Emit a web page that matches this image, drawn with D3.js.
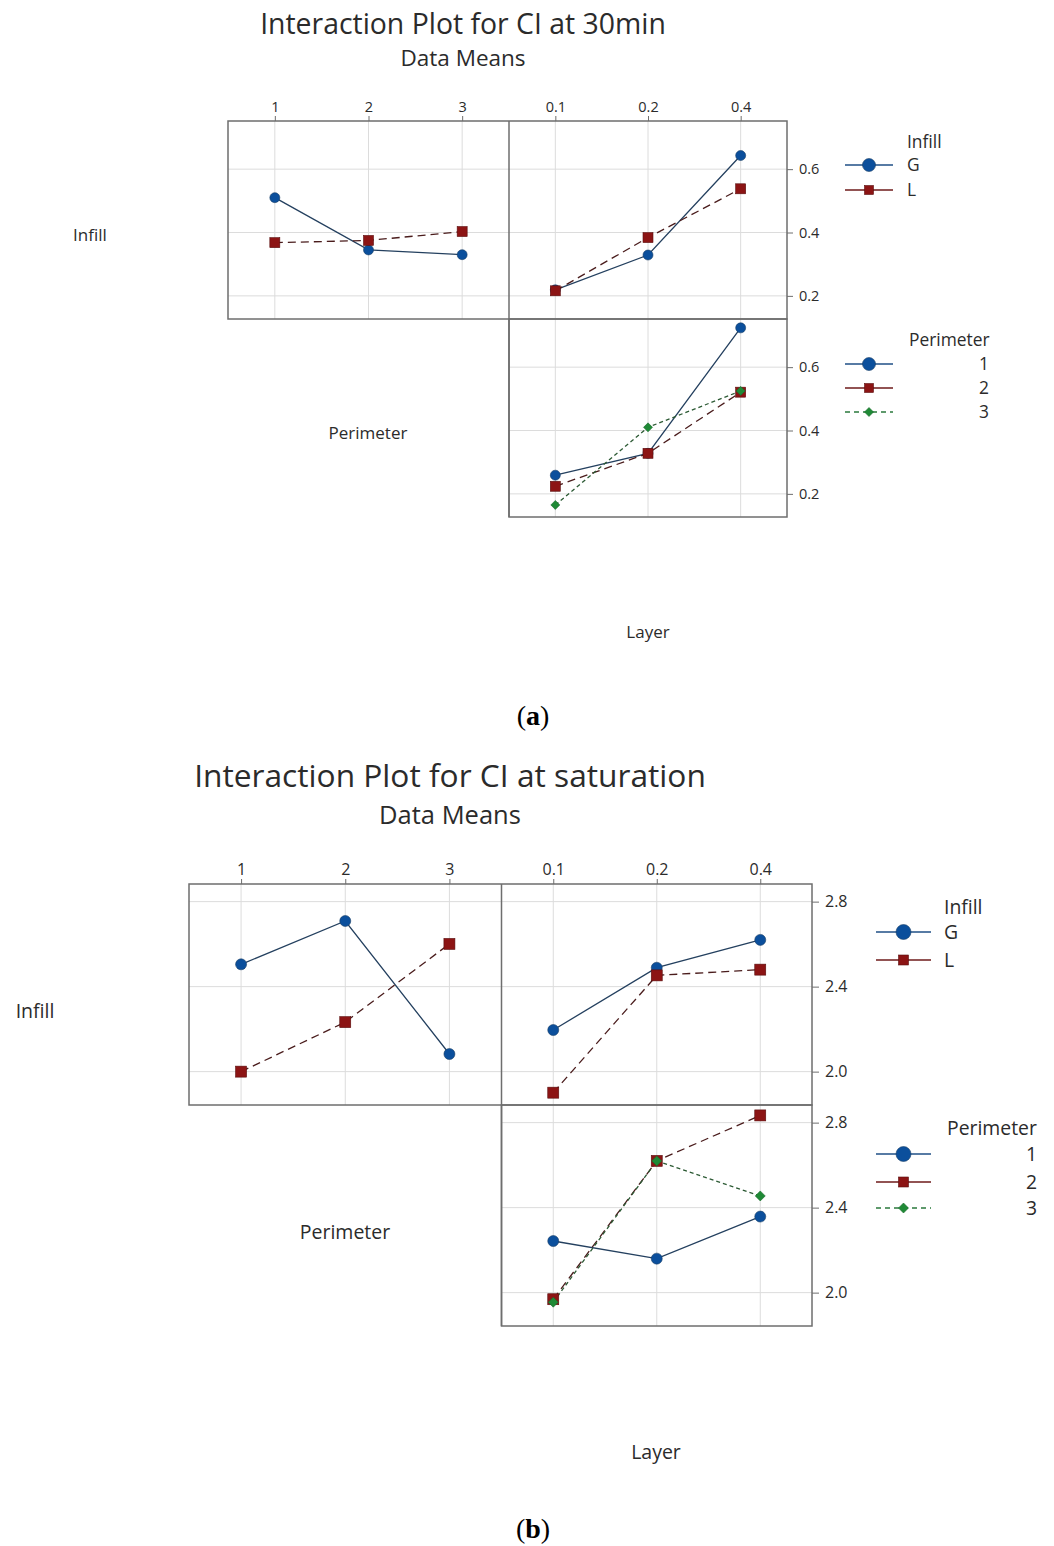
<!DOCTYPE html>
<html>
<head>
<meta charset="utf-8">
<script src="https://cdn.jsdelivr.net/npm/d3@7"></script>
<style>
  html, body { margin: 0; padding: 0; background: #ffffff; }
  svg { display: block; }
  text { font-family: "Open Sans", "Noto Sans", sans-serif; fill: #2b2b2b; }
</style>
</head>
<body>
<svg id="chart" width="1054" height="1546"></svg>
<script>
// Factor levels
const perimeterLevels = ["1", "2", "3"];
const layerLevels = ["0.1", "0.2", "0.4"];
const infillLevels = ["G", "L"];

// (a) CI at 30 min: means
const a_infillByPerimeter = { G: [0.51, 0.345, 0.33], L: [0.368, 0.375, 0.403] };
const a_infillByLayer = { G: [0.219, 0.329, 0.643], L: [0.216, 0.384, 0.538] };
const a_perimeterByLayer = { "1": [0.259, 0.328, 0.724], "2": [0.224, 0.328, 0.521], "3": [0.165, 0.41, 0.525] };
const a_yTicks = [0.2, 0.4, 0.6];
const a_yDomain = [0.127, 0.752];

// (b) CI at saturation: means
const b_infillByPerimeter = { G: [2.505, 2.709, 2.083], L: [2.0, 2.233, 2.601] };
const b_infillByLayer = { G: [2.196, 2.489, 2.62], L: [1.901, 2.453, 2.48] };
const b_perimeterByLayer = { "1": [2.243, 2.16, 2.358], "2": [1.969, 2.62, 2.834], "3": [1.955, 2.62, 2.455] };
const b_yTicks = [2.0, 2.4, 2.8];
const b_yDomain = [1.843, 2.883];

// Series styling (level order: solid blue circle, dashed red square, dashed green diamond)
const styles = [
  { fill: "#0b4f9c", stroke: "#1b3f66", line: "#24405f", dash: null, shape: "circle" },
  { fill: "#8c1414", stroke: "#5a0e0e", line: "#4a1c1c", dash: "8,5", shape: "square" },
  { fill: "#1f8a36", stroke: "#1a6a2c", line: "#2c5a34", dash: "4,3", shape: "diamond" }
];

const svg = d3.select("#chart");

function marker(g, shape, cx, cy, s, st) {
  if (shape === "circle") {
    g.append("circle").attr("cx", cx).attr("cy", cy).attr("r", s / 2)
      .attr("fill", st.fill).attr("stroke", st.stroke).attr("stroke-width", 0.6);
  } else if (shape === "square") {
    g.append("rect").attr("x", cx - s / 2).attr("y", cy - s / 2).attr("width", s).attr("height", s)
      .attr("fill", st.fill).attr("stroke", st.stroke).attr("stroke-width", 0.6);
  } else {
    const h = s / 2;
    g.append("path").attr("d", `M${cx},${cy - h}L${cx + h},${cy}L${cx},${cy + h}L${cx - h},${cy}Z`)
      .attr("fill", st.fill).attr("stroke", st.stroke).attr("stroke-width", 0.6);
  }
}

function drawCell(g, x, y, levels, seriesMap, seriesKeys, yTicks, box, ms) {
  const cell = g.append("g");
  // grid
  cell.selectAll(".vg").data(levels).join("line")
    .attr("x1", d => x(d)).attr("x2", d => x(d)).attr("y1", box.y0).attr("y2", box.y1)
    .attr("stroke", "#dcdcdc").attr("stroke-width", 1);
  cell.selectAll(".hg").data(yTicks).join("line")
    .attr("x1", box.x0).attr("x2", box.x1).attr("y1", d => y(d)).attr("y2", d => y(d))
    .attr("stroke", "#dcdcdc").attr("stroke-width", 1);
  const line = d3.line().x((d, i) => x(levels[i])).y(d => y(d));
  seriesKeys.forEach((k, si) => {
    const st = styles[si];
    cell.append("path").attr("d", line(seriesMap[k])).attr("fill", "none")
      .attr("stroke", st.line).attr("stroke-width", 1.3)
      .attr("stroke-dasharray", st.dash);
  });
  seriesKeys.forEach((k, si) => {
    const st = styles[si];
    const size = st.shape === "circle" ? ms.c : st.shape === "square" ? ms.s : ms.d;
    seriesMap[k].forEach((v, i) => marker(cell, st.shape, x(levels[i]), y(v), size, st));
  });
}

function drawLegend(g, L, title, keys, align) {
  const lg = g.append("g");
  lg.append("text").attr("x", L.tx).attr("y", L.ty).attr("font-size", L.fs).text(title);
  keys.forEach((k, i) => {
    const st = styles[i];
    const yy = L.ry[i];
    lg.append("line").attr("x1", L.lx0).attr("x2", L.lx1).attr("y1", yy).attr("y2", yy)
      .attr("stroke", i === 0 ? "#1f4f86" : i === 1 ? "#6e1a1a" : "#2a7a3c")
      .attr("stroke-width", 1.6)
      .attr("stroke-dasharray", i === 2 ? "5,4" : null);
    const size = st.shape === "circle" ? L.mc : st.shape === "square" ? L.msq : L.md;
    marker(lg, st.shape, (L.lx0 + L.lx1) / 2, yy, size, st);
    lg.append("text").attr("x", align === "end" ? L.vx : L.tx).attr("y", yy)
      .attr("dy", "0.36em").attr("text-anchor", align).attr("font-size", L.fs).text(k);
  });
}

function drawPlot(L, D) {
  const g = svg.append("g");
  const xP = d3.scalePoint().domain(perimeterLevels).range([L.x0, L.x1]).padding(0.5);
  const xL = d3.scalePoint().domain(layerLevels).range([L.x1, L.x2]).padding(0.5);
  const yTop = d3.scaleLinear().domain(D.yDomain).range([L.y1, L.y0]);
  const yBot = d3.scaleLinear().domain(D.yDomain).range([L.y2, L.y1]);

  // titles
  g.append("text").attr("x", L.cx).attr("y", L.titleY).attr("text-anchor", "middle")
    .attr("font-size", L.titleFs).attr("fill", "#262626").text(D.title);
  g.append("text").attr("x", L.cx).attr("y", L.subY).attr("text-anchor", "middle")
    .attr("font-size", L.subFs).attr("fill", "#505050").text("Data Means");

  // panels
  drawCell(g, xP, yTop, perimeterLevels, D.ip, infillLevels, D.yTicks,
    { x0: L.x0, x1: L.x1, y0: L.y0, y1: L.y1 }, L.ms);
  drawCell(g, xL, yTop, layerLevels, D.il, infillLevels, D.yTicks,
    { x0: L.x1, x1: L.x2, y0: L.y0, y1: L.y1 }, L.ms);
  drawCell(g, xL, yBot, layerLevels, D.pl, perimeterLevels, D.yTicks,
    { x0: L.x1, x1: L.x2, y0: L.y1, y1: L.y2 }, L.ms);

  // frames
  const fr = g.append("g").attr("fill", "none").attr("stroke", "#6e6e6e").attr("stroke-width", 1.5);
  fr.append("rect").attr("x", L.x0).attr("y", L.y0).attr("width", L.x2 - L.x0).attr("height", L.y1 - L.y0);
  fr.append("line").attr("x1", L.x1).attr("x2", L.x1).attr("y1", L.y0).attr("y2", L.y2);
  fr.append("rect").attr("x", L.x1).attr("y", L.y1).attr("width", L.x2 - L.x1).attr("height", L.y2 - L.y1);

  // axes: top category ticks, right value ticks
  const styleAxis = (sel) => {
    sel.select(".domain").remove();
    sel.selectAll(".tick line").attr("stroke", "#6e6e6e").attr("stroke-width", 1);
    sel.selectAll(".tick text").attr("font-size", L.tickFs).attr("fill", "#2b2b2b")
      .attr("font-family", "'Open Sans', sans-serif");
  };
  g.append("g").attr("transform", `translate(0,${L.y0})`)
    .call(d3.axisTop(xP).tickSize(L.tk).tickPadding(4)).call(styleAxis);
  g.append("g").attr("transform", `translate(0,${L.y0})`)
    .call(d3.axisTop(xL).tickSize(L.tk).tickPadding(4)).call(styleAxis);
  const fmt = d3.format(".1f");
  g.append("g").attr("transform", `translate(${L.x2},0)`)
    .call(d3.axisRight(yTop).tickValues(D.yTicks).tickFormat(fmt).tickSize(L.tkR).tickPadding(6)).call(styleAxis);
  g.append("g").attr("transform", `translate(${L.x2},0)`)
    .call(d3.axisRight(yBot).tickValues(D.yTicks).tickFormat(fmt).tickSize(L.tkR).tickPadding(6)).call(styleAxis);

  // factor labels
  g.append("text").attr("x", L.infillLab[0]).attr("y", L.infillLab[1]).attr("text-anchor", "middle")
    .attr("dy", "0.36em").attr("font-size", L.labFs).text("Infill");
  g.append("text").attr("x", L.perimLab[0]).attr("y", L.perimLab[1]).attr("text-anchor", "middle")
    .attr("dy", "0.36em").attr("font-size", L.labFs).text("Perimeter");
  g.append("text").attr("x", L.layerLab[0]).attr("y", L.layerLab[1]).attr("text-anchor", "middle")
    .attr("dy", "0.36em").attr("font-size", L.labFs).text("Layer");

  drawLegend(g, L.leg1, "Infill", infillLevels, "start");
  drawLegend(g, L.leg2, "Perimeter", perimeterLevels, "end");

  // caption
  const cap = g.append("text").attr("x", L.capX).attr("y", L.capY).attr("text-anchor", "middle")
    .attr("font-size", 28).style("font-family", "'Liberation Serif', 'DejaVu Serif', serif").style("fill", "#000");
  cap.append("tspan").text("(");
  cap.append("tspan").attr("font-weight", "bold").text(D.cap);
  cap.append("tspan").text(")");
}

drawPlot({
  x0: 228, x1: 509, x2: 787, y0: 121, y1: 319, y2: 517,
  cx: 463, titleY: 34, subY: 66, titleFs: 28.4, subFs: 22.5,
  tickFs: 14.5, tk: 5, tkR: 6, labFs: 17,
  ms: { c: 10, s: 10, d: 9 },
  infillLab: [90, 235], perimLab: [368, 433], layerLab: [648, 632],
  leg1: { tx: 907, ty: 148, fs: 17.4, ry: [165, 190], lx0: 845, lx1: 893, mc: 13, msq: 9, md: 9, vx: 989 },
  leg2: { tx: 909, ty: 346, fs: 17.4, ry: [364, 388, 412], lx0: 845, lx1: 893, mc: 13, msq: 9, md: 9, vx: 989 },
  capX: 533, capY: 725
}, {
  title: "Interaction Plot for CI at 30min", cap: "a",
  ip: a_infillByPerimeter, il: a_infillByLayer, pl: a_perimeterByLayer,
  yTicks: a_yTicks, yDomain: a_yDomain
});

drawPlot({
  x0: 189, x1: 501.5, x2: 812, y0: 884, y1: 1105, y2: 1326,
  cx: 450, titleY: 787, subY: 824, titleFs: 31.7, subFs: 25.5,
  tickFs: 16, tk: 5, tkR: 7, labFs: 19.5,
  ms: { c: 11, s: 11, d: 10 },
  infillLab: [35, 1011], perimLab: [345, 1232], layerLab: [656, 1452],
  leg1: { tx: 944, ty: 914, fs: 19.4, ry: [932, 960], lx0: 876, lx1: 931, mc: 15, msq: 10, md: 10, vx: 1037 },
  leg2: { tx: 947, ty: 1135, fs: 19.4, ry: [1154, 1182, 1208], lx0: 876, lx1: 931, mc: 15, msq: 10, md: 10, vx: 1037 },
  capX: 533, capY: 1538
}, {
  title: "Interaction Plot for CI at saturation", cap: "b",
  ip: b_infillByPerimeter, il: b_infillByLayer, pl: b_perimeterByLayer,
  yTicks: b_yTicks, yDomain: b_yDomain
});
</script>
</body>
</html>
